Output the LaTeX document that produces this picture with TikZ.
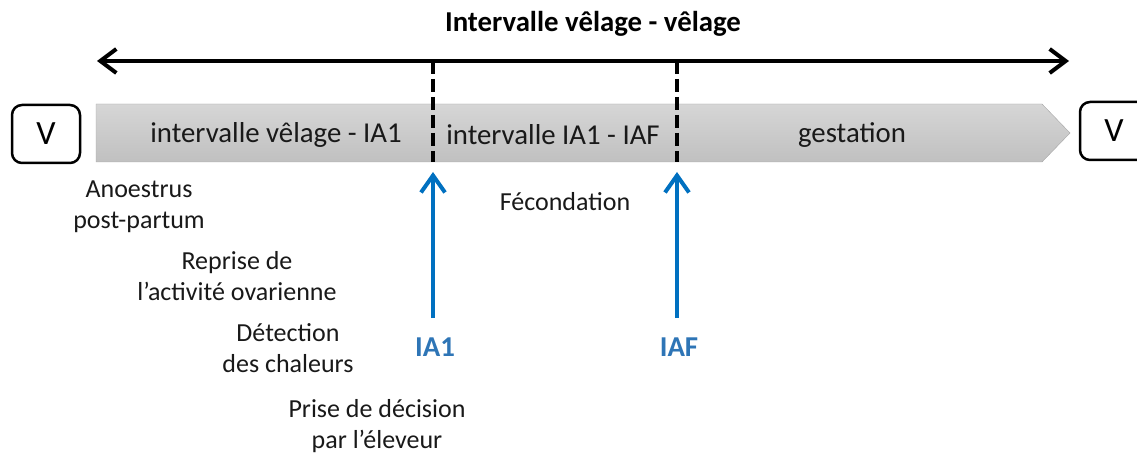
\documentclass[tikz,border=0pt]{standalone}
\usepackage{fontspec}
\setmainfont{Carlito}
\usetikzlibrary{arrows.meta}
\definecolor{bleufleche}{HTML}{0070C0}
\definecolor{bleutexte}{HTML}{2E75B6}
\definecolor{grishaut}{HTML}{D6D6D6}
\definecolor{grisbas}{HTML}{C0C0C0}
\definecolor{grisbord}{HTML}{A6A6A6}
\begin{document}
\begin{tikzpicture}[x=1pt,y=-1pt,
    texte/.style={font=\fontsize{26}{31}\selectfont, align=center, text=black!90},
    etape/.style={font=\fontsize{28.8}{34}\selectfont, text=black!90},
    titre/.style={font=\bfseries\fontsize{28.8}{34}\selectfont},
    ia/.style={font=\bfseries\fontsize{28.8}{34}\selectfont, text=bleutexte},
    veau/.style={draw, line width=2.5pt, rounded corners=10pt, minimum width=68pt,
        minimum height=58pt, font=\fontsize{34}{40}\selectfont},
    fleche/.style={line width=4pt, {Straight Barb[length=16pt,width=24pt]}-{Straight Barb[length=16pt,width=24pt]}},
    flechebleue/.style={line width=4pt, bleufleche, -{Straight Barb[length=17pt,width=24pt]}},
    repere/.style={line width=4pt, dash pattern=on 13pt off 5pt}]
    \useasboundingbox (0,0) rectangle (1137,457);

    % barre du cycle
    \draw[grisbord, top color=grishaut, bottom color=grisbas]
        (96,104) -- (1042,104) -- (1070,133) -- (1042,162) -- (96,162) -- cycle;
    \node[veau] (v1) at (46,134) {V};
    \node[veau] (v2) at (1114,131) {V};

    \node[titre] (titre) at (593,24) {Intervalle vêlage - vêlage};
    \coordinate (g) at (97,61);
    \coordinate (d) at (1069,61);
    \draw[fleche] (g) -- (d);

    \foreach \n/\x/\t in {e1/276/{intervalle vêlage - IA1}, e2/553/{intervalle IA1 - IAF},
        e3/852/{gestation}}
        {\node[etape] (\n) at (\x,135) {\t};}

    % IA1 et IAF
    \foreach \n/\x/\t in {ia1/433/IA1, iaf/677/IAF}
        {\coordinate (\n haut) at (\x,61);
         \coordinate (\n bas) at (\x,162);
         \draw[repere] (\n haut) -- (\n bas);
         \node[ia] (\n) at (\x+2,347) {\t};
         \coordinate (\n pied) at (\x,318);
         \coordinate (\n tete) at (\x,172);
         \draw[flechebleue] (\n pied) -- (\n tete);}

    \node[texte] (fec) at (565,202) {Fécondation};
    \foreach \n/\x/\y/\t in {anoe/139/207/{Anoestrus\\post-partum},
        repr/237/276/{Reprise de\\l’activité ovarienne},
        dete/288/348/{Détection\\des chaleurs},
        deci/377/426/{Prise de décision\\par l’éleveur}}
        {\node[texte] (\n) at (\x,\y) {\t};}
\end{tikzpicture}
\end{document}
